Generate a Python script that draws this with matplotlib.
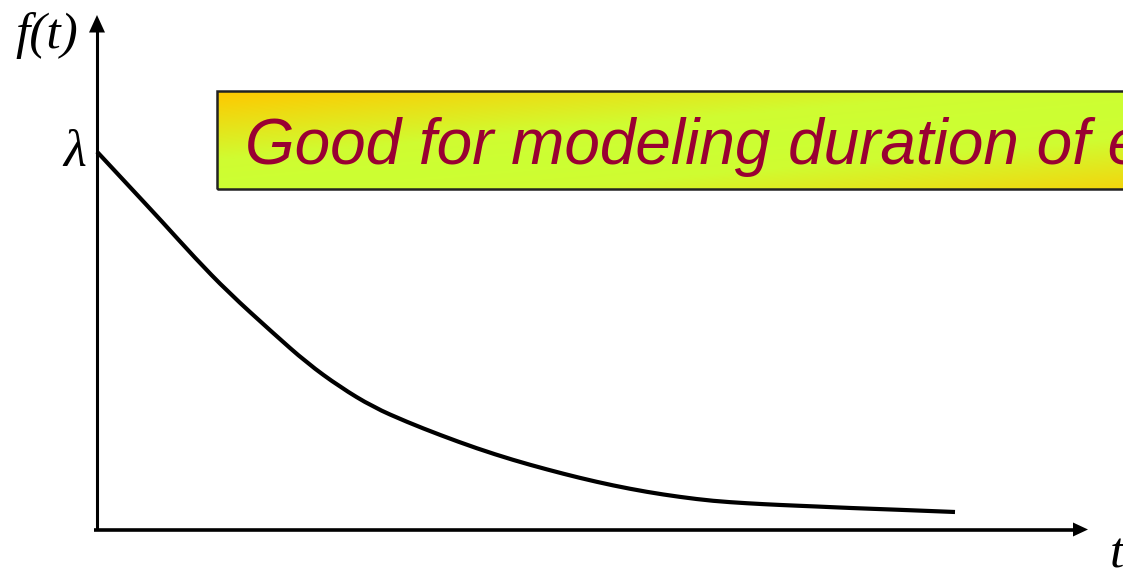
import numpy as np
import matplotlib
matplotlib.use("Agg")
import matplotlib.pyplot as plt
from matplotlib.patches import Rectangle, PathPatch
from matplotlib.path import Path
from matplotlib.colors import LinearSegmentedColormap

# Curve (arbitrary units: t along the axis, f(t) height)
t_vals = [0, 31, 65, 98, 131, 176, 210, 243, 276, 310, 343, 380,
          416, 450, 483, 516, 550, 583, 616, 650, 683, 720, 753, 800, 858]
f_vals = [377.8, 344.5, 308, 271.5, 237.5, 196.5, 166.5, 142.5, 122.5, 107.5, 94.5, 81,
          69.5, 60, 51.5, 44, 37.5, 32.5, 28.5, 26.2, 24.5, 23, 21.5, 19.8, 17.5]

title_text = "Good for modeling duration of events"
y_label = "f(t)"
x_label = "t"
lam_label = "λ"

fig = plt.figure(figsize=(11.23, 5.68), dpi=100)
ax = fig.add_axes([0, 0, 1, 1])
ax.set_xlim(-97, 1026)
ax.set_ylim(-38.5, 529.5)
ax.axis("off")

# axes lines
ax.plot([0, 0], [0, 500], color="black", lw=2.2, solid_capstyle="butt")
ax.plot([-3, 980], [0, 0], color="black", lw=2.6, solid_capstyle="butt")
ax.fill([-8, 8, 0], [497, 497, 514.5], color="black", lw=0)
ax.fill([976, 976, 991], [7, -7, 0], color="black", lw=0)

# curve: smooth rendering through the read points (quadratic Bezier via midpoints)
pts = np.column_stack([t_vals, f_vals])
verts = [pts[0]]
codes = [Path.MOVETO]
mids = (pts[:-1] + pts[1:]) / 2
verts.append(mids[0]); codes.append(Path.LINETO)
for i in range(1, len(pts) - 1):
    verts.append(pts[i]); codes.append(Path.CURVE3)
    verts.append(mids[i]); codes.append(Path.CURVE3)
verts.append(pts[-1]); codes.append(Path.LINETO)
ax.add_patch(PathPatch(Path(verts, codes), fill=False, ec="black", lw=3.0,
                       capstyle="butt", joinstyle="round", zorder=2))

# labels
ax.text(-50, 493.5, y_label, fontsize=37, family="Liberation Serif", style="italic",
        ha="center", va="center")
ax.text(-22, 376, lam_label, fontsize=38, family="Liberation Serif", style="italic",
        ha="center", va="center")
ax.text(1020, -37.5, x_label, fontsize=37, family="Liberation Serif", style="italic",
        ha="center", va="baseline")

# gradient box
x0, x1 = 120, 1233
y0, y1 = 340.5, 438.5
nx, ny = 400, 60
xs = np.linspace(0, 1, nx)
ys = np.linspace(0, 1, ny)
XX, YY = np.meshgrid(xs, ys)  # YY=0 at top
u = (XX + YY) / 2
vals = np.abs(u - 0.5) * 2
cmap2 = LinearSegmentedColormap.from_list("g2", [(0, "#CCFF33"), (0.3, "#D0FC31"), (1, "#FFC800")])
ax.imshow(vals, cmap=cmap2, extent=[x0, x1, y0, y1], origin="upper",
          aspect="auto", zorder=1, interpolation="bilinear")
rect = Rectangle((x0, y0), x1 - x0, y1 - y0, fill=False, ec="#222222", lw=1.8, zorder=3)
ax.add_patch(rect)
ax.set_xlim(-97, 1026)
ax.set_ylim(-38.5, 529.5)

ax.text(148, 365.5, title_text, fontsize=46, family="Liberation Sans", style="italic",
        color="#990033", ha="left", va="baseline", zorder=4)

fig.savefig("out.png", dpi=100)
